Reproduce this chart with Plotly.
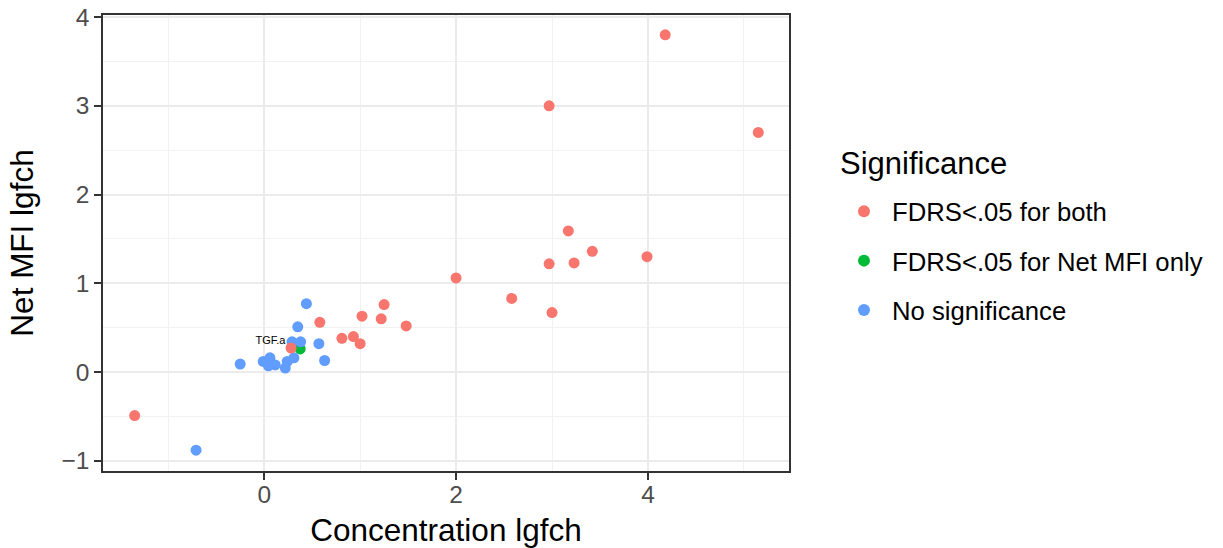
import plotly.graph_objects as go

# Data
both_x = [-1.35, 4.18, 2.97, 5.15, 3.17, 3.42, 3.23, 2.97, 3.99, 2.00, 2.58, 3.00,
          1.25, 1.02, 1.22, 1.48, 0.58, 0.81, 0.93, 1.00, 0.28]
both_y = [-0.49, 3.80, 3.00, 2.70, 1.59, 1.36, 1.23, 1.22, 1.30, 1.06, 0.83, 0.67,
          0.76, 0.63, 0.60, 0.52, 0.56, 0.38, 0.40, 0.32, 0.27]

mfi_x = [0.375]
mfi_y = [0.26]

none_x = [-0.01, 0.06, 0.115, 0.045, 0.24, 0.22, 0.31, -0.25, -0.71, 0.29, 0.38,
          0.35, 0.44, 0.57, 0.63]
none_y = [0.12, 0.16, 0.08, 0.07, 0.12, 0.045, 0.16, 0.09, -0.88, 0.34, 0.34,
          0.51, 0.77, 0.32, 0.13]

label_text = ["TGF.a"]
label_x = [0.065]
label_y = [0.35]

series_names = ["FDRS<.05 for both", "FDRS<.05 for Net MFI only", "No significance"]
colors = ["#F8766D", "#00BA38", "#619CFF"]
legend_title = "Significance"

FONT = "Liberation Sans, Arial, Helvetica, sans-serif"

fig = go.Figure()
# draw order: green, blue, red (as in the picture), legend order by legendrank
order = [(1, mfi_x, mfi_y), (2, none_x, none_y), (0, both_x, both_y)]
for idx, xs, ys in order:
    fig.add_trace(go.Scatter(
        x=xs, y=ys, mode="markers", name=series_names[idx],
        legendgroup=series_names[idx], legendrank=idx + 1,
        marker=dict(color=colors[idx], size=11, line=dict(width=0)),
        hoverinfo="x+y+name",
    ))

fig.add_trace(go.Scatter(
    x=label_x, y=label_y, mode="text", text=label_text,
    textfont=dict(size=11, color="black", family=FONT),
    showlegend=False, hoverinfo="skip",
))

axis_common = dict(
    showline=True, linecolor="#333333", linewidth=1.5, mirror=True,
    ticks="outside", ticklen=7, tickwidth=1.5, tickcolor="#333333",
    gridcolor="#EBEBEB", gridwidth=1.5, zeroline=False, automargin=False,
    tickfont=dict(size=24.5, color="#4D4D4D", family=FONT),
    minor=dict(showgrid=True, gridcolor="#F2F2F2", gridwidth=0.8, ticks=""),
)

fig.update_layout(
    width=1223, height=548,
    margin=dict(l=103, r=434, t=15, b=77),
    paper_bgcolor="white", plot_bgcolor="white",
    font=dict(family=FONT, color="black"),
    xaxis=dict(
        range=[-1.68, 5.47], tickvals=[0, 2, 4], ticktext=["0", "2", "4"],
        ticklabelstandoff=-6,
        title=dict(text="Concentration lgfch", font=dict(size=31.5, color="black"), standoff=13),
        **axis_common,
    ),
    yaxis=dict(
        range=[-1.115, 4.023], tickvals=[-1, 0, 1, 2, 3, 4],
        ticktext=["\u22121", "0", "1", "2", "3", "4"],
        title=dict(text="Net MFI lgfch", font=dict(size=31.5, color="black"), standoff=18),
        **axis_common,
    ),
    legend=dict(
        font=dict(size=25.7, color="black"),
        x=1.0685, xanchor="left", xref="paper", y=0.4605, yanchor="middle",
        traceorder="grouped", tracegroupgap=13, itemsizing="constant",
        itemwidth=46,
        bgcolor="rgba(0,0,0,0)",
    ),
    annotations=[dict(
        text=legend_title, xref="paper", yref="paper", x=1.0714, y=0.6754,
        xanchor="left", yanchor="middle", showarrow=False,
        font=dict(size=31, color="black", family=FONT),
    )],
)
fig.update_xaxes(minor=dict(tickvals=[-1, 1, 3, 5]))
fig.update_yaxes(minor=dict(tickvals=[-0.5, 0.5, 1.5, 2.5, 3.5]))

fig.write_html("out.html")
